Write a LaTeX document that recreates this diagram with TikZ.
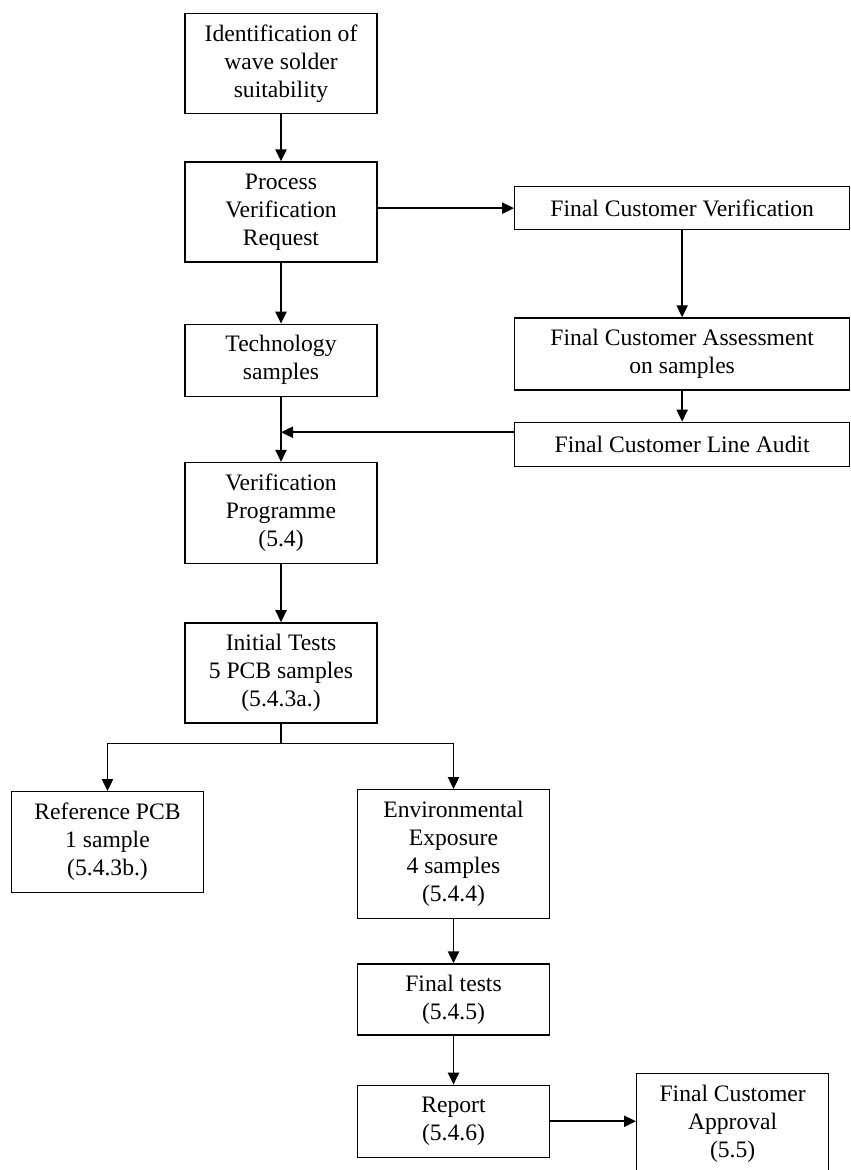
\documentclass[tikz,border=0pt]{standalone}
\usepackage{fontspec}
\setmainfont{Liberation Serif}
\usepackage{tikz}
\usetikzlibrary{arrows.meta,positioning}

\begin{document}
\begin{tikzpicture}[x=0.5pt,y=-0.5pt,
flowbox/.style={draw,line width=.65pt,align=center,inner sep=1pt,minimum width=96pt,font=\fontsize{11.8}{14}\selectfont},
widebox/.style={flowbox,minimum width=167.5pt},
arr/.style={-{Triangle[length=6pt,width=5.6pt]},line width=.85pt}]
\useasboundingbox (0,0) rectangle (850,1170);
\node[flowbox,minimum height=50pt,anchor=north](a) at (281,13){Identification of\\wave solder\\suitability};
\node[flowbox,minimum height=50pt,below=23.5pt of a](b){Process\\Verification\\Request};
\node[flowbox,minimum height=36pt,below=30.5pt of b](c){Technology\\samples};
\node[flowbox,minimum height=50.5pt,below=32.5pt of c](d){Verification\\Programme\\(5.4)};
\node[flowbox,minimum height=50pt,below=29pt of d](e){Initial Tests\\5 PCB samples\\(5.4.3a.)};
\node[widebox,minimum height=21.5pt,anchor=north west](fcv) at (514,186){Final Customer Verification};
\node[widebox,minimum height=36pt,below=43.5pt of fcv](fca){Final Customer Assessment\\on samples};
\node[widebox,minimum height=22pt,below=15.5pt of fca](fcla){Final Customer Line Audit};
\node[flowbox,minimum height=50.5pt,anchor=north](ref) at (107.5,791){Reference PCB\\1 sample\\(5.4.3b.)};
\node[flowbox,minimum height=64.5pt,anchor=north](env) at (453.5,789){Environmental\\Exposure\\4 samples\\(5.4.4)};
\node[flowbox,minimum height=35.5pt,below=22pt of env](ft){Final tests\\(5.4.5)};
\node[flowbox,minimum height=36pt,below=24.5pt of ft](rep){Report\\(5.4.6)};
\node[flowbox,minimum height=50pt,anchor=north west](appr) at (636,1073){Final Customer\\Approval\\(5.5)};
\coordinate[below=10pt of e.south](split);
\draw[arr](a)--(b);\draw[arr](b)--(c);\draw[arr](c)--(d);\draw[arr](d)--(e);
\draw[arr](b.east|-fcv)--(fcv);\draw[arr](fcv)--(fca);\draw[arr](fca)--(fcla);
\draw[arr]([yshift=6pt]fcla.west)--([yshift=6pt]fcla.west-|c.south);
\draw[arr](e.south)--(split)-|(ref);\draw[arr](split)-|(env);
\draw[arr](env)--(ft);\draw[arr](ft)--(rep);
\draw[arr](rep.east)--(rep.east-|appr.west);
\end{tikzpicture}
\end{document}
